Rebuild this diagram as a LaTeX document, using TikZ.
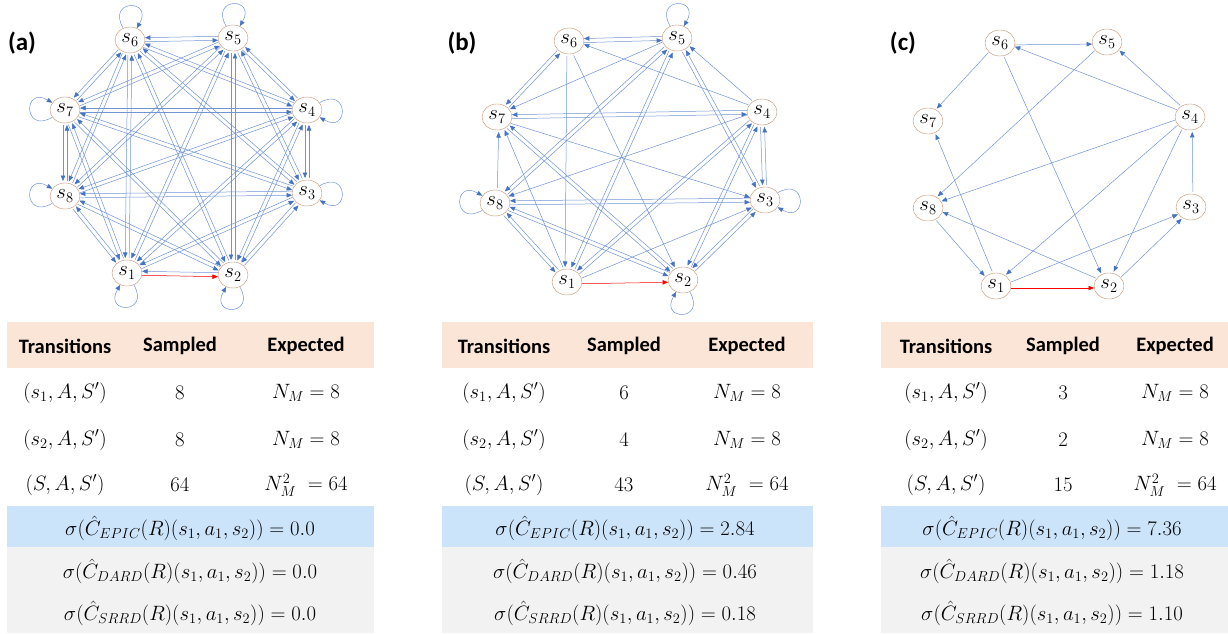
\documentclass[tikz,border=0pt]{standalone}
\usepackage{fontspec}
\usepackage{amsmath}
\setsansfont{Carlito}
\usetikzlibrary{arrows.meta,calc,shapes.geometric}

\definecolor{lineblue}{RGB}{112,148,212}
\definecolor{tipblue}{RGB}{68,114,196}
\definecolor{statebrown}{RGB}{196,146,112}
\definecolor{headpeach}{RGB}{251,229,214}
\definecolor{epicblue}{RGB}{204,228,250}
\definecolor{bandgray}{RGB}{242,242,242}

% offset of the two lines of a pair
\newcommand{\edgegap}{2pt}
\newcommand{\trans}[3][]{\draw[trans,#1] ($(#2)!\edgegap!-90:(#3)$) -- ($(#3)!\edgegap!90:(#2)$);}

\begin{document}
\begin{tikzpicture}[
  x=1pt,y=-1pt,
  state/.style={draw=statebrown,ellipse,minimum width=30pt,minimum height=26pt,inner sep=0pt,
    font=\fontsize{21}{21}\selectfont},
  trans/.style={draw=lineblue,line width=0.5pt,-{Triangle[length=5.5pt,width=4.5pt,color=tipblue]},
    shorten <=15pt,shorten >=15pt},
  chosen/.style={draw=red,-{Triangle[length=5.5pt,width=4.5pt,color=red]}},
  selfloop/.style={draw=lineblue,line width=0.5pt,-{Triangle[length=5.5pt,width=4.5pt,color=tipblue]},distance=34pt},
  panel/.style={font=\sffamily\bfseries\fontsize{25}{25}\selectfont},
  head/.style={font=\sffamily\bfseries\fontsize{20.5}{20.5}\selectfont},
  cell/.style={font=\fontsize{19.5}{20}\selectfont,inner sep=0pt}
]
\useasboundingbox (0,0) rectangle (1228,634);

% (a) all transitions
\node[panel] (pa) at (22,43) {(a)};
\foreach \n/\x/\y in {6/130/40,5/233/38,7/65/110,4/307/110,8/65/196,3/307/193,1/127/273,2/233/275}
  \node[state] (a\n) at (\x,\y) {$s_{\n}$};
\foreach \i in {1,...,8}{\foreach \j in {1,...,8}{%
  \ifnum\i=\j\else\ifnum\i\j=12\else\trans{a\i}{a\j}\fi\fi}}
\trans[chosen]{a1}{a2}
\foreach \n/\ao/\ai in {6/120/60,5/120/60,7/210/150,8/210/150,4/30/-30,3/30/-30,1/-60/-120,2/-60/-120}
  \draw[selfloop] (a\n) to[out=\ao,in=\ai] (a\n);

% (b) sampled transitions
\node[panel] (pb) at (462,43) {(b)};
\foreach \n/\x/\y in {6/569/41,5/677/38,7/497/117,4/762/112,8/495/203,3/765/200,1/567/282,2/683/280}
  \node[state] (b\n) at (\x,\y) {$s_{\n}$};
\foreach \i/\j in {1/3,1/4,1/5,1/7,1/8,2/3,2/4,2/7,2/8,3/2,3/4,3/5,3/8,4/1,4/2,4/3,4/5,4/6,4/7,4/8,
    5/1,5/3,5/6,5/7,5/8,6/1,6/2,6/5,6/7,7/2,7/3,7/4,7/6,8/1,8/2,8/3,8/5,8/7}
  \trans{b\i}{b\j};
\trans[chosen]{b1}{b2}
\foreach \n/\ao/\ai in {5/120/60,8/210/150,3/30/-30,2/-60/-120}
  \draw[selfloop] (b\n) to[out=\ao,in=\ai] (b\n);

% (c) fewer samples
\node[panel] (pc) at (903,43) {(c)};
\foreach \n/\x/\y in {6/1000/43,5/1107/42,7/928/121,4/1190/117,8/928/208,3/1191/207,1/996/286,2/1109/286}
  \node[state] (c\n) at (\x,\y) {$s_{\n}$};
\foreach \i/\j in {6/5,6/7,6/2,5/8,4/6,4/5,4/8,4/1,4/2,3/4,2/3,2/8,1/7,1/3,8/1}
  \trans{c\i}{c\j};
\trans[chosen]{c1}{c2}

% tables
\foreach \p/\xl/\xr/\xt/\xs/\xe/\xm/\na/\nb/\nc/\ep/\da/\sr in
  {a/7/374/65/180/306/190/8/8/64/0.0/0.0/0.0,
   b/442/813/504/624/747/625/6/4/43/2.84/0.46/0.18,
   c/881/1228/946/1063/1175/1052/3/2/15/7.36/1.18/1.10}{
  \fill[headpeach] (\xl,322) rectangle (\xr,368);
  \fill[epicblue] (\xl,506) rectangle (\xr,547);
  \fill[bandgray] (\xl,547) rectangle (\xr,633);
  \node[head] (t\p-h1) at (\xt,346) {Transitions};
  \node[head] (t\p-h2) at (\xs,346) {Sampled};
  \node[head] (t\p-h3) at (\xe,346) {Expected};
  \node[cell] (t\p-r1) at (\xt,393) {$(s_1,A,S')$};
  \node[cell] (t\p-r2) at (\xt,440) {$(s_2,A,S')$};
  \node[cell] (t\p-r3) at (\xt,485) {$(S,A,S')$};
  \node[cell] (t\p-n1) at (\xs,393) {$\na$};
  \node[cell] (t\p-n2) at (\xs,440) {$\nb$};
  \node[cell] (t\p-n3) at (\xs,485) {$\nc$};
  \node[cell] (t\p-e1) at (\xe,393) {$N_M=8$};
  \node[cell] (t\p-e2) at (\xe,440) {$N_M=8$};
  \node[cell] (t\p-e3) at (\xe,485) {$N_M^2\ =64$};
  \node[cell] (t\p-epic) at (\xm,528) {$\sigma(\hat{C}_{EPIC}(R)(s_1,a_1,s_2))=\ep$};
  \node[cell] (t\p-dard) at (\xm,571) {$\sigma(\hat{C}_{DARD}(R)(s_1,a_1,s_2))=\da$};
  \node[cell] (t\p-srrd) at (\xm,613) {$\sigma(\hat{C}_{SRRD}(R)(s_1,a_1,s_2))=\sr$};
}
\end{tikzpicture}
\end{document}
